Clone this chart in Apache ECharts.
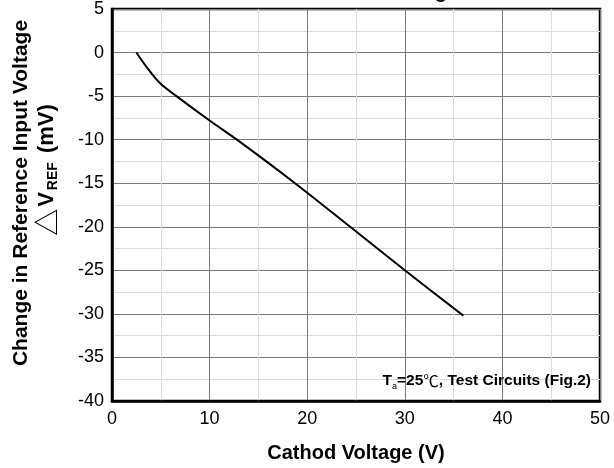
<!DOCTYPE html>
<html>
<head>
<meta charset="utf-8">
<script src="https://cdn.jsdelivr.net/npm/echarts@6/dist/echarts.min.js"></script>
<style>
html,body{margin:0;padding:0;background:#fff;}
#main{width:614px;height:468px;}
</style>
</head>
<body>
<div id="main"></div>
<script>
// Data
var cathodVoltage = [2.5, 3.5, 4.9, 6.6, 10, 12.8, 18.75, 24.4, 30, 36];
var deltaVref = [0, -1.6, -3.5, -5.0, -7.8, -10, -15, -20, -25, -30.2];
var xTicks = [0, 10, 20, 30, 40, 50];
var yTicks = [-40, -35, -30, -25, -20, -15, -10, -5, 0, 5];

var FONT = '"Liberation Sans", Arial, Helvetica, sans-serif';
var CJK = '"Noto Sans CJK SC", "DejaVu Sans", sans-serif';
var seriesData = cathodVoltage.map(function (x, i) { return [x, deltaVref[i]]; });

var chart = echarts.init(document.getElementById('main'), null, {renderer: 'canvas'});
chart.setOption({
  animation: false,
  backgroundColor: '#fff',
  grid: {left: 112, right: 14, top: 7, bottom: 64, show: true, borderColor: '#000', borderWidth: 2.5, backgroundColor: 'transparent'},
  xAxis: {
    type: 'value', min: xTicks[0], max: xTicks[xTicks.length - 1], interval: 10,
    axisLine: {show: true, onZero: false, lineStyle: {color: '#000', width: 2.5}},
    axisTick: {show: false},
    axisLabel: {color: '#000', fontSize: 18, fontFamily: FONT, margin: 9},
    splitLine: {show: true, lineStyle: {color: '#7a7a7a', width: 1}},
    minorTick: {show: false, splitNumber: 2},
    minorSplitLine: {show: true, lineStyle: {color: '#dcdcdc', width: 1}},
    name: 'Cathod Voltage (V)', nameLocation: 'middle', nameGap: 42,
    nameTextStyle: {color: '#000', fontSize: 20, fontWeight: 'bold', fontFamily: FONT}
  },
  yAxis: {
    type: 'value', min: yTicks[0], max: yTicks[yTicks.length - 1], interval: 5,
    axisLine: {show: true, onZero: false, lineStyle: {color: '#000', width: 2.5}},
    axisTick: {show: false},
    axisLabel: {color: '#000', fontSize: 18, fontFamily: FONT, margin: 8},
    splitLine: {show: true, lineStyle: {color: '#7a7a7a', width: 1}},
    minorTick: {show: false, splitNumber: 2},
    minorSplitLine: {show: true, lineStyle: {color: '#dcdcdc', width: 1}}
  },
  series: [{
    type: 'line', data: seriesData, smooth: 0.3, symbol: 'none',
    lineStyle: {color: '#000', width: 2}, z: 5
  }],
  graphic: [
    {type: 'text', x: 458, y: 2, z: 10,
     style: {text: 'vs. Cathode Voltage', font: 'bold 20px ' + FONT, fill: '#000', textAlign: 'right', textVerticalAlign: 'bottom'}},
    {type: 'text', x: 21, y: 193, rotation: Math.PI / 2, z: 10,
     style: {text: 'Change in Reference Input Voltage', font: 'bold 21px ' + FONT, fill: '#000', textAlign: 'center', textVerticalAlign: 'middle'}},
    {type: 'text', x: 47, y: 170, rotation: Math.PI / 2, z: 10,
     style: {text: '{d|△}{t|V}{s|REF}{t| (mV)}', textAlign: 'center', textVerticalAlign: 'middle',
       rich: {
         d: {fontFamily: CJK, fontSize: 27, fill: '#000', padding: [0, 2, 0, 0]},
         t: {fontFamily: FONT, fontSize: 22, fontWeight: 'bold', fill: '#000'},
         s: {fontFamily: FONT, fontSize: 14, fontWeight: 'bold', fill: '#000', padding: [13, 3, 0, 2]}
       }}},
    {type: 'text', x: 591, y: 381, z: 10,
     style: {text: '{t|T}{s|a}{t|=25}{c|℃}{t|, Test Circuits (Fig.2)}', textAlign: 'right', textVerticalAlign: 'middle',
       rich: {
         t: {fontFamily: FONT, fontSize: 15.5, fontWeight: 'bold', fill: '#000'},
         s: {fontFamily: FONT, fontSize: 9, fill: '#000', padding: [11, 0, 0, 0]},
         c: {fontFamily: CJK, fontSize: 15.5, fill: '#000'}
       }}}
  ]
});
</script>
</body>
</html>
